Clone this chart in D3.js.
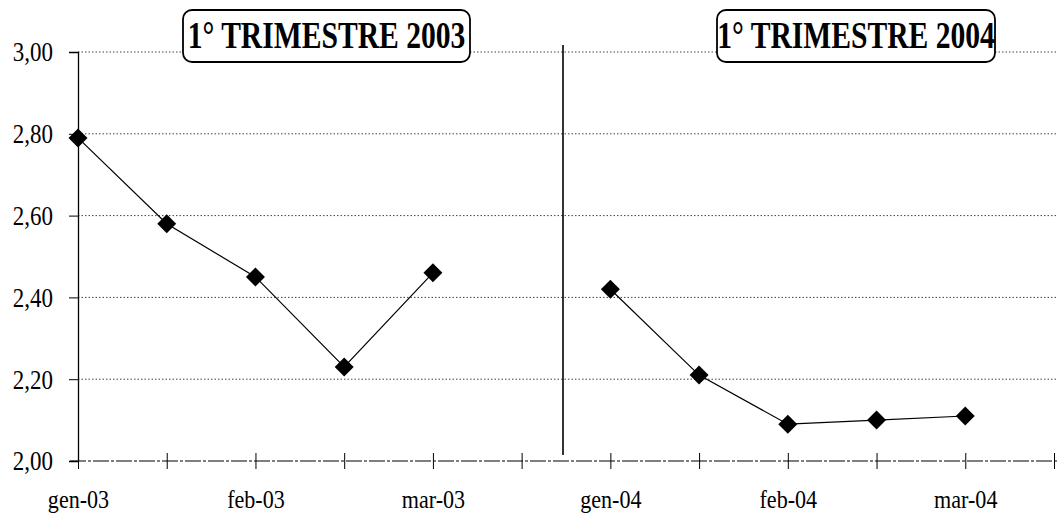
<!DOCTYPE html>
<html>
<head>
<meta charset="utf-8">
<script src="https://cdn.jsdelivr.net/npm/d3@7"></script>
<style>
  body { margin: 0; background: #fff; }
  text { font-family: "Liberation Serif", "Times New Roman", serif; fill: #000; }
</style>
</head>
<body>
<div id="chart"></div>
<script>
// 12 category slots on the x axis, labels only on some of them
var slots = [0, 1, 2, 3, 4, 5, 6, 7, 8, 9, 10, 11];
var tickLabels = ["gen-03", "", "feb-03", "", "mar-03", "", "gen-04", "", "feb-04", "", "mar-04", ""];
var yTicks = [2.0, 2.2, 2.4, 2.6, 2.8, 3.0];

var titles = ["1\u00b0 TRIMESTRE 2003", "1\u00b0 TRIMESTRE 2004"];
var slots2003 = [0, 1, 2, 3, 4];
var values2003 = [2.79, 2.58, 2.45, 2.23, 2.46];
var slots2004 = [6, 7, 8, 9, 10];
var values2004 = [2.42, 2.21, 2.09, 2.10, 2.11];

var width = 1057, height = 513;

var svg = d3.select("#chart").append("svg")
    .attr("width", width)
    .attr("height", height);

var x = d3.scalePoint().domain(slots).range([78, 1054]);
var y = d3.scaleLinear().domain([2, 3]).range([461, 52]);

var fmt = function(d) { return d3.format(".2f")(d).replace(".", ","); };

// dotted grid
svg.append("g").selectAll("line")
    .data(yTicks.filter(function(d) { return d > 2; }))
    .enter().append("line")
    .attr("x1", 78).attr("x2", width)
    .attr("y1", function(d) { return y(d); })
    .attr("y2", function(d) { return y(d); })
    .attr("stroke", "#444")
    .attr("stroke-width", 1)
    .attr("stroke-dasharray", "1.5,2");

// y axis
var yAxis = svg.append("g")
    .attr("transform", "translate(78,0)")
    .call(d3.axisLeft(y).tickValues(yTicks).tickFormat(fmt).tickSize(9));
yAxis.select(".domain").attr("stroke", "#000").attr("stroke-width", 1.3);
yAxis.selectAll(".tick line").attr("stroke", "#000");
yAxis.selectAll(".tick text")
    .attr("font-size", 28)
    .attr("font-family", "Liberation Serif")
    .attr("x", -25 / 0.82)
    .attr("text-anchor", "end")
    .attr("transform", "scale(0.82,1)");

// x axis (baseline at 2,00)
svg.append("line")
    .attr("x1", 70).attr("x2", width)
    .attr("y1", y(2)).attr("y2", y(2))
    .attr("stroke", "#000")
    .attr("stroke-width", 1.2)
    .attr("stroke-dasharray", "16,2,3,2");

var xAxis = svg.append("g")
    .attr("transform", "translate(0," + y(2) + ")")
    .call(d3.axisBottom(x).tickSizeInner(8).tickSizeOuter(0).tickFormat(function(d) { return tickLabels[d]; }).tickPadding(21));
xAxis.select(".domain").remove();
xAxis.selectAll(".tick line").attr("y1", -8).attr("stroke", "#000");
xAxis.selectAll(".tick text")
    .attr("font-size", 26)
    .attr("font-family", "Liberation Serif")
    .attr("transform", "scale(0.85,1)");

// separator between the two quarters
var sepX = (x(5) + x(6)) / 2 - 3;
svg.append("line")
    .attr("x1", sepX).attr("x2", sepX)
    .attr("y1", 45).attr("y2", 455)
    .attr("stroke", "#000")
    .attr("stroke-width", 1.6);

// series
var line = d3.line()
    .x(function(d) { return x(d[0]); })
    .y(function(d) { return y(d[1]); });

var series = [d3.zip(slots2003, values2003), d3.zip(slots2004, values2004)];

svg.append("g").selectAll("path")
    .data(series)
    .enter().append("path")
    .attr("d", line)
    .attr("fill", "none")
    .attr("stroke", "#000")
    .attr("stroke-width", 1.2);

var diamond = d3.symbol().type(d3.symbolSquare).size(180);
svg.append("g").selectAll("path")
    .data(series[0].concat(series[1]))
    .enter().append("path")
    .attr("d", diamond)
    .attr("transform", function(d) { return "translate(" + x(d[0]) + "," + y(d[1]) + ") rotate(45)"; })
    .attr("fill", "#000");

// title boxes
var boxes = [{ x0: 183, x1: 470 }, { x0: 717, x1: 995 }];
var tg = svg.append("g").selectAll("g")
    .data(titles)
    .enter().append("g");
tg.append("rect")
    .attr("x", function(d, i) { return boxes[i].x0; })
    .attr("y", 10)
    .attr("width", function(d, i) { return boxes[i].x1 - boxes[i].x0; })
    .attr("height", 52)
    .attr("rx", 9)
    .attr("fill", "#fff")
    .attr("stroke", "#000")
    .attr("stroke-width", 1.8);
tg.append("text")
    .attr("x", function(d, i) { return (boxes[i].x0 + boxes[i].x1) / 2 / 0.8; })
    .attr("y", 48)
    .attr("transform", "scale(0.8,1)")
    .attr("text-anchor", "middle")
    .attr("font-size", 37)
    .attr("font-weight", "bold")
    .text(function(d) { return d; });
</script>
</body>
</html>
